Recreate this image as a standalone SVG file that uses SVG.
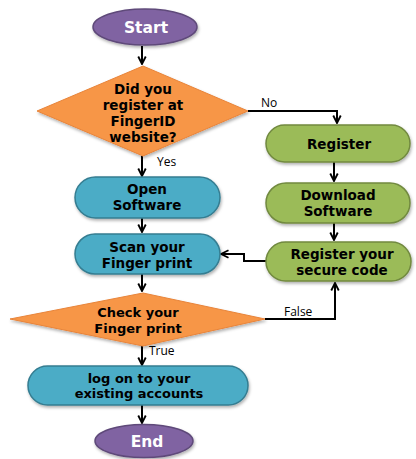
<svg xmlns="http://www.w3.org/2000/svg" width="416" height="459" viewBox="0 0 416 459">
<defs>
<marker id="arr" viewBox="0 0 12 12" refX="10.5" refY="6" markerWidth="10" markerHeight="10" orient="auto" markerUnits="userSpaceOnUse">
<path d="M1.5,1.5 L10.5,6 L1.5,10.5" fill="none" stroke="#000" stroke-width="2.2"/>
</marker>
<filter id="sh" x="-10%" y="-10%" width="130%" height="140%">
<feDropShadow dx="1" dy="2" stdDeviation="1.5" flood-color="#000" flood-opacity="0.3"/>
</filter>
</defs>
<style>
.t{font-family:"DejaVu Sans",sans-serif;font-weight:bold;font-size:13.5px;text-anchor:middle}
.s{font-size:13px}
.big{font-size:15.5px}
.w{fill:#fff}
.k{fill:#000}
.lab{font-family:"Open Sans","Liberation Sans",sans-serif;font-size:12px;fill:#000}
.pur{fill:#8064A2;stroke:#5F4A7A;stroke-width:1.5}
.org{fill:#F79646;stroke:#E8843A;stroke-width:1}
.grn{fill:#9BBB59;stroke:#71893F;stroke-width:1.5}
.blu{fill:#4BACC6;stroke:#357D91;stroke-width:1.5}
.c{fill:none;stroke:#000;stroke-width:2}
</style>
<g id="connectors">
<path class="c" d="M142,46 V64" marker-end="url(#arr)"/>
<path class="c" d="M248,111 H337 V123" marker-end="url(#arr)"/>
<path class="c" d="M142,156 V176" marker-end="url(#arr)"/>
<path class="c" d="M334,162 V181" marker-end="url(#arr)"/>
<path class="c" d="M142,218 V232" marker-end="url(#arr)"/>
<path class="c" d="M334,223 V240" marker-end="url(#arr)"/>
<path class="c" d="M266,261 H244 V254 H221" marker-end="url(#arr)"/>
<path class="c" d="M142,274 V291" marker-end="url(#arr)"/>
<path class="c" d="M265,319 H335 V283" marker-end="url(#arr)"/>
<path class="c" d="M142,346 V365" marker-end="url(#arr)"/>
<path class="c" d="M142,405 V423" marker-end="url(#arr)"/>
<text class="lab" x="261" y="107">No</text>
<text class="lab" x="157" y="166">Yes</text>
<text class="lab" x="284" y="316">False</text>
<text class="lab" x="149" y="355">True</text>
</g>
<g id="start">
<ellipse class="pur" cx="145" cy="27" rx="52" ry="18" filter="url(#sh)"/>
<text class="t big w" x="146" y="32.5">Start</text>
</g>
<g id="decision1">
<polygon class="org" points="143,66 248,111 143,156 37,111" filter="url(#sh)"/>
<text class="t k"><tspan x="143" y="94">Did you</tspan><tspan x="143" y="110">register at</tspan><tspan x="143" y="126">FingerID</tspan><tspan x="143" y="142">website?</tspan></text>
</g>
<g id="register">
<rect class="grn" x="266" y="125" width="144" height="37" rx="18.5" filter="url(#sh)"/>
<text class="t k" x="339" y="149">Register</text>
</g>
<g id="download">
<rect class="grn" x="266" y="183" width="144" height="40" rx="20" filter="url(#sh)"/>
<text class="t k"><tspan x="338" y="200">Download</tspan><tspan x="338" y="216">Software</tspan></text>
</g>
<g id="securecode">
<rect class="grn" x="266" y="242" width="145" height="39" rx="19.5" filter="url(#sh)"/>
<text class="t k"><tspan x="342" y="259">Register your</tspan><tspan x="342" y="275">secure code</tspan></text>
</g>
<g id="open">
<rect class="blu" x="75" y="177" width="145" height="41" rx="20.5" filter="url(#sh)"/>
<text class="t k"><tspan x="147" y="194">Open</tspan><tspan x="147" y="210">Software</tspan></text>
</g>
<g id="scan">
<rect class="blu" x="75" y="234" width="145" height="40" rx="20" filter="url(#sh)"/>
<text class="t k"><tspan x="147" y="252">Scan your</tspan><tspan x="147" y="268">Finger print</tspan></text>
</g>
<g id="decision2">
<polygon class="org" points="143,293 265,319 143,346 10,319" filter="url(#sh)"/>
<text class="t s k"><tspan x="138" y="317">Check your</tspan><tspan x="138" y="332.5">Finger print</tspan></text>
</g>
<g id="logon">
<rect class="blu" x="28" y="366" width="220" height="39" rx="19.5" filter="url(#sh)"/>
<text class="t s k"><tspan x="139" y="382.5">log on to your</tspan><tspan x="139" y="398">existing accounts</tspan></text>
</g>
<g id="end">
<ellipse class="pur" cx="144" cy="441" rx="49" ry="16.5" filter="url(#sh)"/>
<text class="t big w" x="147" y="446.5">End</text>
</g>
</svg>
